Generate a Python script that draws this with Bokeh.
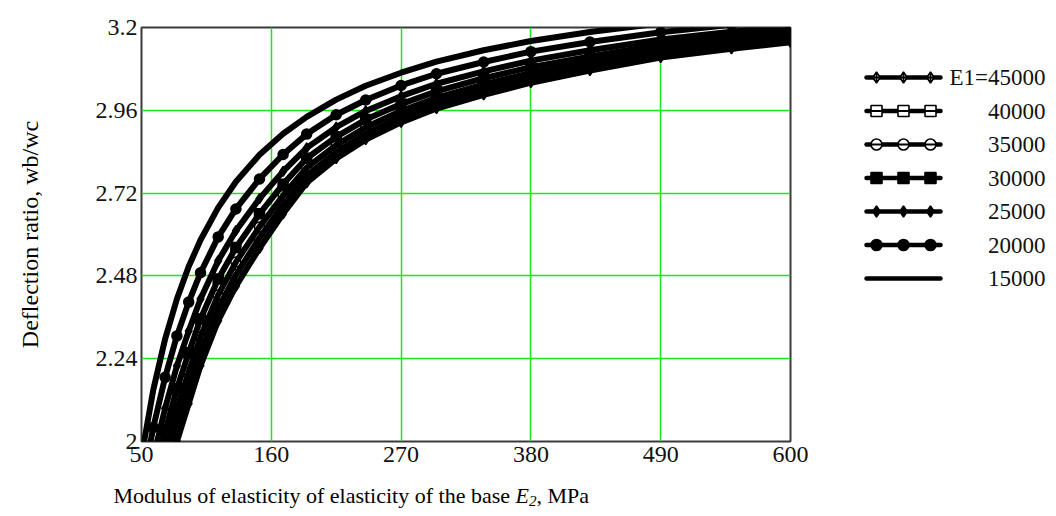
from bokeh.plotting import figure
from bokeh.models import Range1d, FixedTicker
from bokeh.layouts import row, column
from bokeh.core.properties import value
from bokeh.embed import file_html
from bokeh.resources import INLINE

# ---------------- data ----------------
E2 = [50, 60, 70, 80, 90, 100, 115, 130, 150, 170, 190, 215, 240, 270, 300, 340, 380, 430, 490, 550, 600]

ratio_15000 = [1.957, 2.150, 2.297, 2.413, 2.507, 2.584, 2.678, 2.753, 2.831, 2.892, 2.941,
               2.991, 3.031, 3.069, 3.101, 3.134, 3.161, 3.187, 3.212, 3.232, 3.245]
ratio_20000 = [1.859, 2.041, 2.186, 2.306, 2.404, 2.489, 2.593, 2.674, 2.761, 2.832, 2.891,
               2.947, 2.990, 3.032, 3.066, 3.100, 3.130, 3.158, 3.186, 3.208, 3.222]
ratio_25000 = [1.780, 1.953, 2.096, 2.219, 2.320, 2.413, 2.524, 2.611, 2.704, 2.783, 2.851,
               2.911, 2.958, 3.001, 3.037, 3.073, 3.104, 3.134, 3.165, 3.188, 3.204]
ratio_30000 = [1.719, 1.885, 2.028, 2.153, 2.257, 2.355, 2.471, 2.562, 2.660, 2.746, 2.821,
               2.883, 2.933, 2.978, 3.015, 3.053, 3.085, 3.116, 3.150, 3.173, 3.190]
ratio_35000 = [1.667, 1.827, 1.968, 2.095, 2.201, 2.304, 2.425, 2.520, 2.622, 2.713, 2.794,
               2.859, 2.911, 2.958, 2.996, 3.035, 3.068, 3.101, 3.136, 3.160, 3.177]
ratio_40000 = [1.621, 1.776, 1.917, 2.045, 2.154, 2.260, 2.386, 2.483, 2.590, 2.686, 2.771,
               2.839, 2.892, 2.941, 2.980, 3.019, 3.053, 3.087, 3.124, 3.148, 3.167]
ratio_45000 = [1.580, 1.730, 1.870, 2.000, 2.110, 2.220, 2.350, 2.450, 2.560, 2.660, 2.750,
               2.820, 2.875, 2.925, 2.965, 3.005, 3.040, 3.075, 3.113, 3.138, 3.157]

E1_values = [45000, 40000, 35000, 30000, 25000, 20000, 15000]
legend_labels = ["E1=45000", "40000", "35000", "30000", "25000", "20000", "15000"]

x_ticks = [50, 160, 270, 380, 490, 600]
y_ticks = [2, 2.24, 2.48, 2.72, 2.96, 3.2]
y_tick_labels = ["2", "2.24", "2.48", "2.72", "2.96", "3.2"]
y_title = "Deflection ratio, wb/wc"

series = [ratio_45000, ratio_40000, ratio_35000, ratio_30000, ratio_25000, ratio_20000, ratio_15000]

# ---------------- styles ----------------
SERIF = "Liberation Serif"
INK = "#000000"
GRID = "#19e619"
# (marker, filled)
marker_styles = [("diamond_cross", False), ("square", False), ("circle", False),
                 ("square", True), ("diamond", True), ("circle", True), (None, False)]

PAGE_W, PAGE_H = 1056, 516
W_LEG = 216                     # legend strip
W_MAIN = PAGE_W - W_LEG
H_XL = 41                       # strip holding the x title
H_TOP = PAGE_H - H_XL
B_TOP = 27
FRAME_H = 414
B_BOT = H_TOP - B_TOP - FRAME_H
FRAME_BOTTOM = B_TOP + FRAME_H  # page y of the frame's bottom (441)


def strip(w, h, top=0, bottom=0):
    f = figure(width=w, height=h, x_range=Range1d(0, w), y_range=Range1d(0, h - top - bottom),
               output_backend="svg", toolbar_location=None,
               x_axis_location=None, y_axis_location=None, min_border=0,
               min_border_top=top, min_border_bottom=bottom)
    f.grid.visible = False
    f.outline_line_color = None
    f.background_fill_color = "white"
    f.border_fill_color = "white"
    return f


# ---------------- main plot ----------------
p = figure(width=W_MAIN, height=H_TOP, x_range=Range1d(50, 600), y_range=Range1d(2, 3.2),
           output_backend="svg", toolbar_location=None,
           min_border_left=141, min_border_right=50, min_border_top=B_TOP, min_border_bottom=B_BOT)
p.background_fill_color = "white"
p.border_fill_color = "white"
p.outline_line_color = "#3a3a3a"
p.outline_line_width = 2

p.xaxis.ticker = FixedTicker(ticks=x_ticks)
p.yaxis.ticker = FixedTicker(ticks=y_ticks)
p.yaxis.major_label_overrides = {t: s for t, s in zip(y_ticks, y_tick_labels)}
p.axis.axis_line_color = None
p.axis.major_tick_line_color = None
p.axis.minor_tick_line_color = None
p.axis.major_tick_out = 0
p.axis.major_tick_in = 0
p.axis.major_label_text_font = SERIF
p.axis.major_label_text_font_size = "24px"
p.axis.major_label_text_color = "#111111"
p.xaxis.major_label_standoff = 5
p.yaxis.major_label_standoff = 4

p.yaxis.axis_label = y_title
p.yaxis.axis_label_text_font = SERIF
p.yaxis.axis_label_text_font_size = "24px"
p.yaxis.axis_label_text_font_style = "normal"
p.yaxis.axis_label_text_color = INK
p.yaxis.axis_label_standoff = 50

p.grid.grid_line_color = GRID
p.grid.grid_line_width = 1.5

for vals, (mk, filled) in zip(series, marker_styles):
    p.line(E2, vals, line_color=INK, line_width=6, line_join="round")
    if mk is not None:
        p.scatter(E2, vals, marker=mk, size=10, line_color=INK, line_width=1.5,
                  fill_color=INK if filled else None)

# ---------------- legend strip ----------------
lf = strip(W_LEG, H_TOP, B_TOP, B_BOT)
row_top, row_step = 77, 33.5          # page rows
seg_x0, seg_x1 = 26, 100
mk_xs = [36, 63, 90]
text_right = 205
for i, ((mk, filled), text) in enumerate(zip(marker_styles, legend_labels)):
    yy = FRAME_BOTTOM - (row_top + row_step * i)
    lf.line([seg_x0, seg_x1], [yy, yy], line_color=INK, line_width=4.5, line_cap="round")
    if mk is not None:
        lf.scatter(mk_xs, [yy] * 3, marker=mk, size=11, line_color=INK, line_width=1.6,
                   fill_color=INK if filled else "white")
        if not filled:
            lf.line([seg_x0, seg_x1], [yy, yy], line_color=INK, line_width=2)
    lf.text(x=[text_right], y=[yy], text=[text], text_align="right", text_baseline="middle",
            text_font=value(SERIF), text_font_size="23px", text_color="#111111")

# ---------------- x title strip ----------------
xl = strip(PAGE_W, H_XL)
base = H_XL - (495 - H_TOP)


def xtxt(text, x, dy, size, style="normal"):
    xl.text(x=[x], y=[base + dy], text=[text], text_align="left", text_baseline="alphabetic",
            text_font=value(SERIF), text_font_size=size, text_font_style=style, text_color=INK)


xtxt("Modulus of elasticity of elasticity of the base", 113, 0, "22px")
xtxt("E", 515, 0, "22px", "italic")
xtxt("2", 528.5, -5, "15px", "italic")
xtxt(", MPa", 536, 0, "22px")

layout = column(row(p, lf), xl)
open("out.html", "w").write(file_html(layout, INLINE))
